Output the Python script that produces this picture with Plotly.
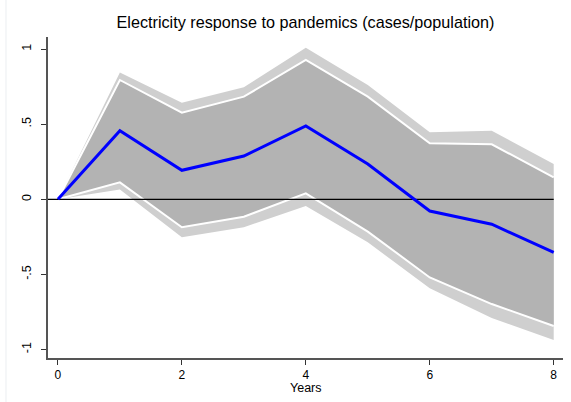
import plotly.graph_objects as go

years = [0, 1, 2, 3, 4, 5, 6, 7, 8]
irf = [0.0, 0.456, 0.193, 0.288, 0.488, 0.235, -0.078, -0.166, -0.353]
inner_hi = [0.0, 0.794, 0.576, 0.683, 0.927, 0.683, 0.373, 0.366, 0.146]
inner_lo = [0.0, 0.113, -0.186, -0.116, 0.040, -0.215, -0.520, -0.697, -0.843]
outer_hi = [0.0, 0.843, 0.643, 0.745, 1.009, 0.760, 0.446, 0.456, 0.235]
outer_lo = [0.0, 0.066, -0.253, -0.186, -0.045, -0.286, -0.592, -0.790, -0.936]

ytick_vals = [-1, -0.5, 0, 0.5, 1]
ytick_text = ["-1", "-.5", "0", ".5", "1"]
xtick_vals = [0, 2, 4, 6, 8]

title_text = "Electricity response to pandemics (cases/population)"
x_title = "Years"

x_range = [-0.16, 8.15]
y_range = [-1.056, 1.08]

OUTER = "#cfcfcf"
INNER = "#b3b3b3"
FONT = "Liberation Sans, Arial, sans-serif"

W, H = 571, 402
ML, MR, MT, MB = 48, 8, 37, 44
PH = H - MT - MB

fig = go.Figure()
fig.add_trace(go.Scatter(x=years, y=outer_hi, mode="lines", line=dict(width=0, color=OUTER),
                         showlegend=False, hoverinfo="skip"))
fig.add_trace(go.Scatter(x=years, y=outer_lo, mode="lines", line=dict(width=0, color=OUTER),
                         fill="tonexty", fillcolor=OUTER, showlegend=False, hoverinfo="skip"))
fig.add_trace(go.Scatter(x=years, y=inner_hi, mode="lines", line=dict(width=0, color=INNER),
                         showlegend=False, hoverinfo="skip"))
fig.add_trace(go.Scatter(x=years, y=inner_lo, mode="lines", line=dict(width=0, color=INNER),
                         fill="tonexty", fillcolor=INNER, showlegend=False, hoverinfo="skip"))
fig.add_trace(go.Scatter(x=years, y=inner_hi, mode="lines", line=dict(width=2, color="white"),
                         showlegend=False, hoverinfo="skip"))
fig.add_trace(go.Scatter(x=years, y=inner_lo, mode="lines", line=dict(width=2, color="white"),
                         showlegend=False, hoverinfo="skip"))
fig.add_trace(go.Scatter(x=[x_range[0], years[-1]], y=[0, 0], mode="lines",
                         line=dict(width=1.2, color="black"), showlegend=False, hoverinfo="skip"))
fig.add_trace(go.Scatter(x=years, y=irf, mode="lines", line=dict(width=3, color="#0000ff"),
                         showlegend=False))

# faint left border of graph region
fig.add_shape(type="line", xref="paper", yref="paper", x0=(6 - ML) / (W - ML - MR),
              x1=(6 - ML) / (W - ML - MR), y0=-MB / PH, y1=1 + MT / PH,
              line=dict(color="#eef1f4", width=1.2))

fig.add_annotation(text=x_title, xref="paper", yref="paper", x=0.5, y=-(388 - (H - MB)) / PH,
                   xanchor="center", yanchor="middle", showarrow=False,
                   font=dict(size=12.5, family=FONT, color="black"))

fig.update_layout(
    width=W, height=H,
    margin=dict(l=ML, r=MR, t=MT, b=MB, autoexpand=False),
    paper_bgcolor="white", plot_bgcolor="white",
    font=dict(family=FONT, size=12, color="black"),
    title=dict(text=title_text, x=0.5, xanchor="center", xref="paper",
               y=1 - 22 / H, yanchor="middle", font=dict(size=16.2, family=FONT, color="black")),
    showlegend=False,
)
fig.update_xaxes(range=x_range, tickvals=xtick_vals, ticks="outside", ticklen=5, tickwidth=1,
                 tickcolor="#333", showline=True, linecolor="#555", linewidth=1.5,
                 showgrid=False, zeroline=False, tickfont=dict(size=12), automargin=False,
                 ticklabelstandoff=0)
fig.update_yaxes(range=y_range, tickvals=ytick_vals, ticktext=ytick_text, ticks="outside",
                 ticklen=5, tickwidth=1, tickcolor="#333", showline=True, linecolor="#555",
                 linewidth=1.5, showgrid=False, zeroline=False, tickangle=-90,
                 tickfont=dict(size=12.5), automargin=False, ticklabelstandoff=5)

fig.write_html("out.html", config={"displayModeBar": False},
               post_script="document.body.style.margin='0px';")
